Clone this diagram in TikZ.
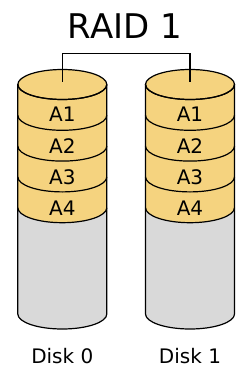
\documentclass[tikz,border=0pt]{standalone}
\usepackage{fontspec}
\setmainfont{DejaVu Sans}
\usetikzlibrary{positioning}
\definecolor{blockgold}{RGB}{245,211,127}
\definecolor{diskgray}{RGB}{217,217,217}
\tikzset{
  outline/.style={draw=black, line width=1.2pt},
  blocklabel/.style={font=\fontsize{20}{24}\selectfont, inner sep=0pt},
  title/.style={font=\fontsize{34}{40}\selectfont, inner sep=0pt},
  link/.style={draw=black, line width=1.2pt},
  rim/.style={x radius=44.5, y radius=15}
}

\begin{document}
\begin{tikzpicture}[x=1pt,y=1pt]
  \useasboundingbox (0,0) rectangle (250,-385);
  \node[title] (t) at (125,-26.5) {RAID 1};
  \foreach \d/\cx in {0/62.3,1/190}{
    % gray body of the disk
    \fill[diskgray] (\cx-44.5,-84.5) -- (\cx-44.5,-314)
      arc[start angle=180, end angle=360, rim] -- (\cx+44.5,-84.5) -- cycle;
    % gold blocks
    \fill[blockgold] (\cx-44.5,-84.5) arc[start angle=180, end angle=0, rim]
      -- (\cx+44.5,-207.7) arc[start angle=0, end angle=-180, rim] -- cycle;
    \foreach \yc in {84.5,115.3,146.1,176.9,207.7}
      \draw[outline] (\cx-44.5,-\yc) arc[start angle=180, end angle=360, rim];
    \draw[outline] (\cx,-84.5) ellipse[rim];
    \draw[outline] (\cx-44.5,-84.5) -- (\cx-44.5,-314)
      arc[start angle=180, end angle=360, rim] -- (\cx+44.5,-84.5);
    \foreach \k/\yl in {1/114.5,2/146,3/177,4/208}
      \node[blocklabel] (a\k-\d) at (\cx,-\yl) {A\k};
    \coordinate (top\d) at (\cx,-82);
    \node[blocklabel] (d\d) at (\cx,-356) {Disk \d};
  }
  \coordinate (bus) at (126,-53.3);
  \draw[link] (top0) |- (bus) -| (top1);
\end{tikzpicture}
\end{document}
